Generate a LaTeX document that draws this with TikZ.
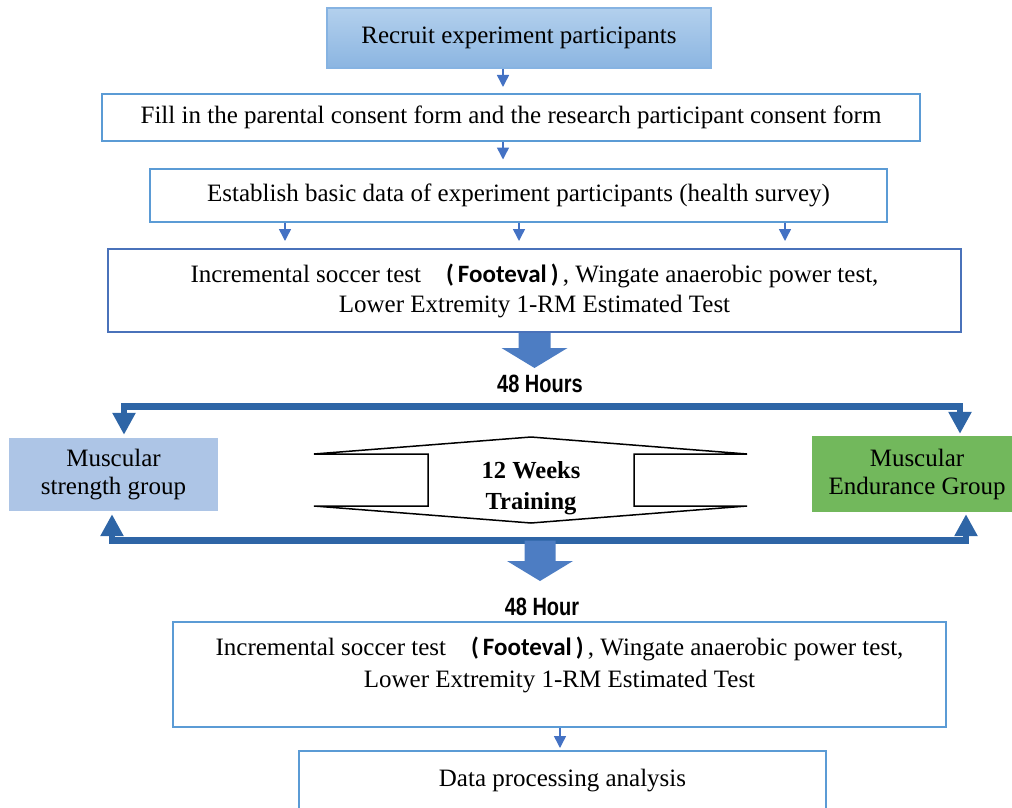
\documentclass[tikz,border=0pt]{standalone}
\usepackage{fontspec}
\setmainfont{Liberation Serif}
\newfontfamily\calfont{Carlito}
\newfontfamily\hoursfont{Liberation Sans}
\usetikzlibrary{arrows.meta}
\definecolor{boxblue}{HTML}{5B9BD5}
\definecolor{testblue}{HTML}{4A72BA}
\definecolor{arrowblue}{HTML}{4472C4}
\definecolor{bandblue}{HTML}{2E65A6}
\definecolor{blockblue}{HTML}{4D7DC3}
\definecolor{recruittop}{HTML}{B3D0ED}
\definecolor{recruitbot}{HTML}{8BB5E1}
\definecolor{recruitline}{HTML}{86B3E2}
\definecolor{strengthfill}{HTML}{ADC5E6}
\definecolor{endurefill}{HTML}{72B85C}
\newcommand{\footeval}{{\calfont\bfseries (\,Footeval\,)}\,}
\newcommand{\hourtext}[1]{{\hoursfont\bfseries\fontsize{25}{30}\selectfont\scalebox{0.8}[1]{#1}}}

\begin{document}
\begin{tikzpicture}[x=1pt,y=1pt,font=\fontsize{25}{30}\selectfont,
	proc/.style={draw=boxblue,line width=2pt,inner sep=0pt,align=center},
	grp/.style={inner sep=0pt,align=center,font=\fontsize{25}{28}\selectfont},
	arr/.style={arrowblue,line width=1.5pt,-{Triangle[width=12pt,length=12pt]},shorten >=6pt},
	band/.style={bandblue,line width=6.5pt,{Triangle[width=22pt,length=22pt]}-{Triangle[width=22pt,length=22pt]}},
	bigarr/.style={fill=blockblue}]
	\useasboundingbox (0,0) rectangle (1012,-808);
	
	%BOXES
	\node[proc,draw=recruitline,top color=recruittop,bottom color=recruitbot,minimum width=384,minimum height=60] (recruit) at (519,-38) {Recruit experiment participants};
	\node[proc,minimum width=818,minimum height=47] (consent) at (511,-117.5) {Fill in the parental consent form and the research participant consent form};
	\node[proc,minimum width=737,minimum height=53] (basic) at (518.5,-195) {Establish basic data of experiment participants (health survey)};
	\node[proc,draw=testblue,minimum width=853,minimum height=83] (pretest) at (534.5,-290.5) {Incremental soccer test\quad\footeval, Wingate anaerobic power test,\\ Lower Extremity 1-RM Estimated Test};
	\node[proc,minimum width=773,minimum height=105,font=\fontsize{25}{32}\selectfont] (posttest) at (559.5,-674.5) {Incremental soccer test\quad\footeval, Wingate anaerobic power test,\\ Lower Extremity 1-RM Estimated Test\\[-8pt]\mbox{}};
	\node[proc,minimum width=527,minimum height=59] (analysis) at (562.5,-780.5) {Data processing analysis};
	
	%GROUPS
	\node[grp,fill=strengthfill,minimum width=209,minimum height=73] (strength) at (113.5,-474.5) {Muscular\\strength group};
	\node[grp,fill=endurefill,minimum width=210,minimum height=76] (endurance) at (917,-474) {Muscular\\Endurance Group};
	
	%TRAINING
	\draw[line width=1.5pt,fill=white] (531,-437) -- (747,-454) -- (634,-454) -- (634,-506) -- (747,-506) -- (531,-523) -- (314,-506) -- (428,-506) -- (428,-454) -- (314,-454) -- cycle;
	\node[align=center,font=\bfseries\fontsize{24.5}{31}\selectfont] (weeks) at (531,-488) {12 Weeks\\Training};
	
	%SMALL ARCS
	\coordinate (colx) at (503,0);
	\draw[arr] (recruit.south -| colx) -- (consent.north -| colx);
	\draw[arr,shorten >=8pt] (consent.south -| colx) -- (basic.north -| colx);
	\foreach \x/\n in {285/a,519/b,785/c} {
		\coordinate (col\n) at (\x,0);
		\draw[arr,shorten >=7pt] (basic.south -| col\n) -- (pretest.north -| col\n);
	}
	\coordinate (coly) at (560,0);
	\draw[arr,shorten >=2pt] (posttest.south -| coly) -- (analysis.north -| coly);
	
	%48 HOURS
	\fill[bigarr] ([xshift=-16pt]pretest.south) -- ++(0,-15) -- ++(-17,0) -- ++(33,-20) -- ++(33,20) -- ++(-17,0) -- ++(0,15) -- cycle;
	\node (hours) at (540,-384) {\hourtext{48 Hours}};
	\coordinate (topbar) at (537,-406.5);
	\coordinate (botbar) at (540,-540.5);
	\draw[band,shorten <=3pt,shorten >=2pt] ([xshift=10.5pt]strength.north) |- (topbar) -| ([xshift=43pt]endurance.north);
	\draw[band,shorten <=3pt,shorten >=2pt] ([xshift=-1.5pt]strength.south) |- (botbar) -| ([xshift=49pt]endurance.south);
	\fill[bigarr] ([xshift=-15.5pt]botbar) -- ++(0,-20.5) -- ++(-17.5,0) -- ++(33,-20) -- ++(33,20) -- ++(-17.5,0) -- ++(0,20.5) -- cycle;
	\node (hour) at (542,-607) {\hourtext{48 Hour}};
\end{tikzpicture}
\end{document}
